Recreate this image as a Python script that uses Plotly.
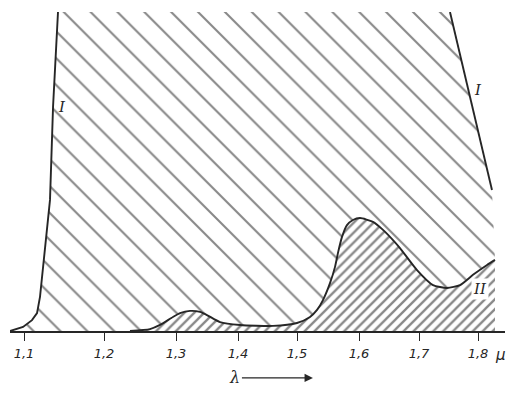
import numpy as np
import plotly.graph_objects as go

# Wavelength axis of the spectrogram (non-uniform dispersion scale)
tick_lambda = [1.1, 1.2, 1.3, 1.4, 1.5, 1.6, 1.7, 1.8]
tick_labels = ["1,1", "1,2", "1,3", "1,4", "1,5", "1,6", "1,7", "1,8"]
dispersion_scale = [0, 80, 152, 214, 273, 335, 395, 454]

# Curve I, short-wavelength edge (lambda in micron, relative value)
curve1_left_lambda = [1.0825, 1.0988, 1.1100, 1.1163, 1.1200, 1.1238, 1.1288, 1.1325, 1.1363, 1.1425]
curve1_left_value = [0.0, 1.25, 3.4, 5.6, 10.7, 20.1, 30.7, 41.1, 70.2, 100.0]

# Curve I, long-wavelength edge
curve1_right_lambda = [1.7525, 1.8237]
curve1_right_value = [100.0, 44.2]

# Curve II
curve2_lambda = [1.2361, 1.2639, 1.2778, 1.2958, 1.3065, 1.3226, 1.3387, 1.3500, 1.3710,
                 1.4034, 1.4593, 1.5000, 1.5210, 1.5323, 1.5419, 1.5532, 1.5613, 1.5661,
                 1.5726, 1.5806, 1.5903, 1.6017, 1.6233, 1.6400, 1.6567, 1.6683, 1.6967,
                 1.7237, 1.7475, 1.7695, 1.7915, 1.8153, 1.8288]
curve2_value = [0.0, 0.6, 1.9, 4.4, 5.6, 6.3, 6.0, 5.0, 2.8,
                1.9, 1.6, 2.5, 4.4, 6.6, 9.7, 15.0, 20.1, 24.5,
                29.5, 33.2, 34.8, 35.4, 34.2, 31.7, 28.5, 26.0, 19.1,
                14.4, 13.5, 14.4, 17.6, 20.7, 22.3]


def to_scale(lam):
    lam = np.asarray(lam, dtype=float)
    s = np.interp(lam, tick_lambda, dispersion_scale)
    k_lo = (dispersion_scale[1] - dispersion_scale[0]) / (tick_lambda[1] - tick_lambda[0])
    k_hi = (dispersion_scale[-1] - dispersion_scale[-2]) / (tick_lambda[-1] - tick_lambda[-2])
    lo = lam < tick_lambda[0]
    hi = lam > tick_lambda[-1]
    s[lo] = dispersion_scale[0] + (lam[lo] - tick_lambda[0]) * k_lo
    s[hi] = dispersion_scale[-1] + (lam[hi] - tick_lambda[-1]) * k_hi
    return s


ink = "#262626"
hatch = "#111111"
font_it = dict(family="DejaVu Sans", size=13, color=ink, style="italic")

x1l, x1r, x2 = to_scale(curve1_left_lambda), to_scale(curve1_right_lambda), to_scale(curve2_lambda)

# region between curve I and curve II (wide hatch)
reg_x = np.concatenate([x1l, x1r, x2[::-1]])
reg_y = np.concatenate([curve1_left_value, curve1_right_value, curve2_value[::-1]])

fig = go.Figure()
fig.add_trace(go.Scatter(
    x=reg_x, y=reg_y, mode="lines", fill="toself", line=dict(width=0),
    fillcolor="white",
    fillpattern=dict(shape="\\", size=19, solidity=0.11, fgcolor=hatch, bgcolor="white"),
    hoverinfo="skip", showlegend=False))
fig.add_trace(go.Scatter(
    x=x2, y=curve2_value, mode="lines", fill="tozeroy", line=dict(width=0, shape="spline", smoothing=0.6),
    fillcolor="white",
    fillpattern=dict(shape="/", size=7, solidity=0.33, fgcolor=hatch, bgcolor="white"),
    hoverinfo="skip", showlegend=False))
for xs, ys, shp in [(x1l, curve1_left_value, "linear"), (x1r, curve1_right_value, "linear"),
                    (x2, curve2_value, "spline")]:
    fig.add_trace(go.Scatter(x=xs, y=ys, mode="lines",
                             line=dict(color=ink, width=1.9, shape=shp, smoothing=0.6),
                             hoverinfo="skip", showlegend=False))

label_font = dict(family="DejaVu Serif", size=15, color=ink, style="italic")
fig.add_annotation(x=38, y=70.2, text="I", showarrow=False, font=label_font)
fig.add_annotation(x=to_scale([1.8])[0], y=75.5, text="I", showarrow=False, font=label_font)
fig.add_annotation(x=to_scale([1.8])[0] + 2, y=13.2, text="II", showarrow=False, font=label_font,
                   bgcolor="white")
fig.add_annotation(x=to_scale([1.8])[0] + 22, y=-0.075, yref="paper", yanchor="middle",
                   text="μ", showarrow=False,
                   font=dict(family="DejaVu Sans", size=15, color=ink, style="italic"))
fig.add_annotation(x=0.612, y=-0.147, xref="paper", yref="paper", text="λ", showarrow=True,
                   ax=-78, ay=0, arrowhead=2, arrowsize=1.2, arrowwidth=1.4, arrowcolor=ink,
                   font=dict(family="DejaVu Serif", size=16, color=ink, style="italic"))

fig.update_layout(
    width=507, height=393,
    margin=dict(l=10, r=2, t=12, b=62),
    paper_bgcolor="white", plot_bgcolor="white",
    xaxis=dict(range=[-14, 481], showgrid=False, zeroline=False, showline=True,
               linecolor=ink, linewidth=2, ticks="outside", ticklen=8, tickwidth=1.3,
               tickcolor=ink, tickvals=to_scale(tick_lambda), ticktext=tick_labels,
               tickfont=font_it, ticklabelstandoff=1),
    yaxis=dict(range=[0, 100], visible=False),
)

fig.write_html("out.html", config={"displayModeBar": False},
               post_script="document.body.style.margin='0';")
